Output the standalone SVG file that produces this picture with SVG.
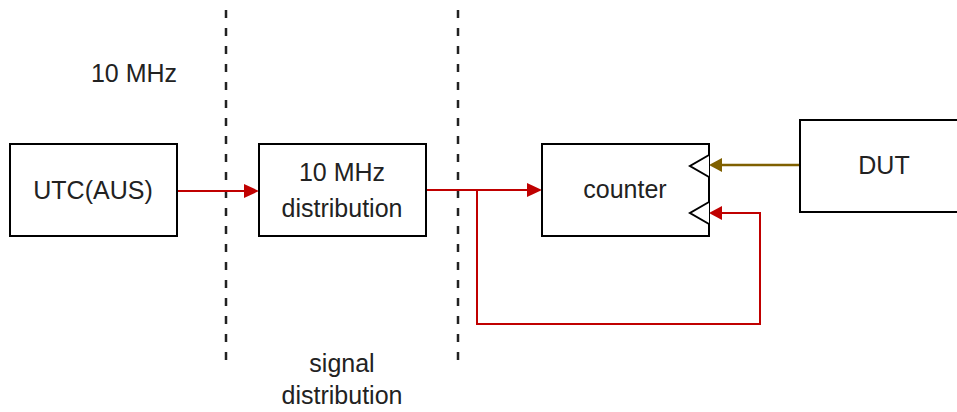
<svg xmlns="http://www.w3.org/2000/svg" width="957" height="412" viewBox="0 0 957 412">
<style>
.box{fill:#fff;stroke:#000;stroke-width:2}
.t{font-family:"Liberation Sans",Arial,sans-serif;font-size:25px;fill:#222;text-anchor:middle}
.dash{stroke:#222;stroke-width:2.5;stroke-dasharray:8 10}
.red{fill:none;stroke:#C00000;stroke-width:2}
.brn{fill:none;stroke:#7F6000;stroke-width:2.5}
.tri{fill:#fff;stroke:#000;stroke-width:2}
</style>
<g id="dividers">
<line class="dash" x1="226" y1="10" x2="226" y2="362"/>
<line class="dash" x1="458" y1="10" x2="458" y2="362"/>
</g>
<g id="labels">
<text class="t" x="134" y="82">10 MHz</text>
<text class="t" x="342" y="372">signal</text>
<text class="t" x="342" y="404">distribution</text>
</g>
<g id="connectors">
<line class="red" x1="177" y1="191" x2="245" y2="191"/>
<path d="M244,184 L259,191 L244,198 z" fill="#C00000"/>
<line class="red" x1="426" y1="190" x2="528" y2="190"/>
<path d="M527,183 L542,190 L527,197 z" fill="#C00000"/>
<path class="red" d="M477,190 V324 H760 V213 H720"/>
<path d="M722,206 L709,213 L722,220 z" fill="#C00000"/>
<line class="brn" x1="800" y1="165" x2="721" y2="165"/>
<path d="M722,158 L709,165 L722,172 z" fill="#7F6000"/>
</g>
<g id="utc">
<rect class="box" x="10" y="144" width="167" height="92"/>
<text class="t" x="93" y="199">UTC(AUS)</text>
</g>
<g id="dist">
<rect class="box" x="259" y="144" width="167" height="92"/>
<text class="t" x="342" y="181">10 MHz</text>
<text class="t" x="342" y="217">distribution</text>
</g>
<g id="counter">
<rect class="box" x="542" y="144" width="167" height="92"/>
<text class="t" x="625" y="198">counter</text>
<path class="tri" d="M709,155 L690,166 L709,177"/>
<path class="tri" d="M709,202 L690,213 L709,224"/>
</g>
<g id="dut">
<rect class="box" x="800" y="120" width="170" height="92"/>
<text class="t" x="884" y="174">DUT</text>
</g>
</svg>
